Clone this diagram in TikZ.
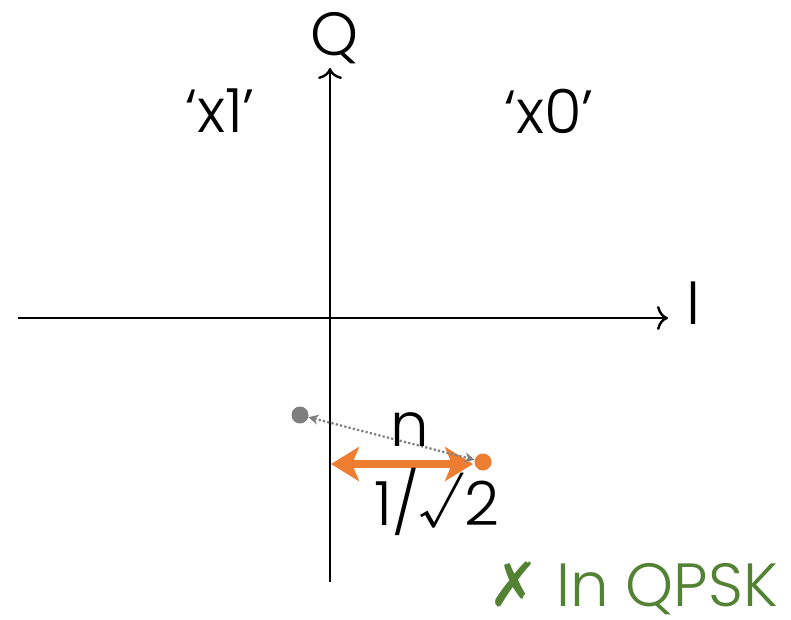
\documentclass[tikz,border=0pt]{standalone}
\usepackage{fontspec}
\setmainfont{Poppins}[UprightFont=* Light]
\newfontfamily\symfont{DejaVu Sans}
\usetikzlibrary{arrows.meta}
\definecolor{qorange}{HTML}{ED7D31}
\definecolor{qgray}{HTML}{7F7F7F}
\definecolor{qgreen}{HTML}{548235}
\tikzset{
  axis/.style={line width=2.4pt,-{To[length=11pt,width=24pt,line width=2.4pt]}},
  lbl/.style={inner sep=0pt,font=\fontsize{61}{64}\selectfont},
  dotpt/.style={circle,inner sep=0pt,minimum size=17pt},
}
\begin{document}
\begin{tikzpicture}[x=1pt,y=-1pt]
\useasboundingbox (0,0) rectangle (791,619);
\coordinate (hl) at (18,318);
\coordinate (hr) at (668,318);
\coordinate (vb) at (330,582);
\coordinate (vt) at (330,68);
\draw[axis] (hl) -- (hr);
\draw[axis] (vb) -- (vt);
\node[lbl] (Q) at (335,38) {Q};
\node[lbl] (I) at (693,303) {I};
\node[lbl] (x1) at (220,111) {‘x1’};
\node[lbl] (x0) at (549,111) {‘x0’};
\node[dotpt,fill=qgray] (g) at (300,415) {};
\node[dotpt,fill=qorange] (o) at (483,462) {};
\coordinate (a0) at (331,464);
\coordinate (a1) at (473,464);
\draw[qorange,line width=7.5pt,{Stealth[length=28pt,width=34pt,inset=7pt]}-{Stealth[length=28pt,width=34pt,inset=7pt]}] (a0) -- (a1);
\draw[qgray,line width=2.2pt,dash pattern=on 2.2pt off 2.2pt,{Stealth[length=10pt,width=10pt]}-{Stealth[length=10pt,width=10pt]}] (g) -- (o);
\node[lbl] (n) at (410,430) {n};
\node[lbl] (r) at (437,502) {1/√2};
\node[lbl,text=qgreen,anchor=base east] (q) at (778,606) {{\symfont ✗} In QPSK};
\end{tikzpicture}
\end{document}
